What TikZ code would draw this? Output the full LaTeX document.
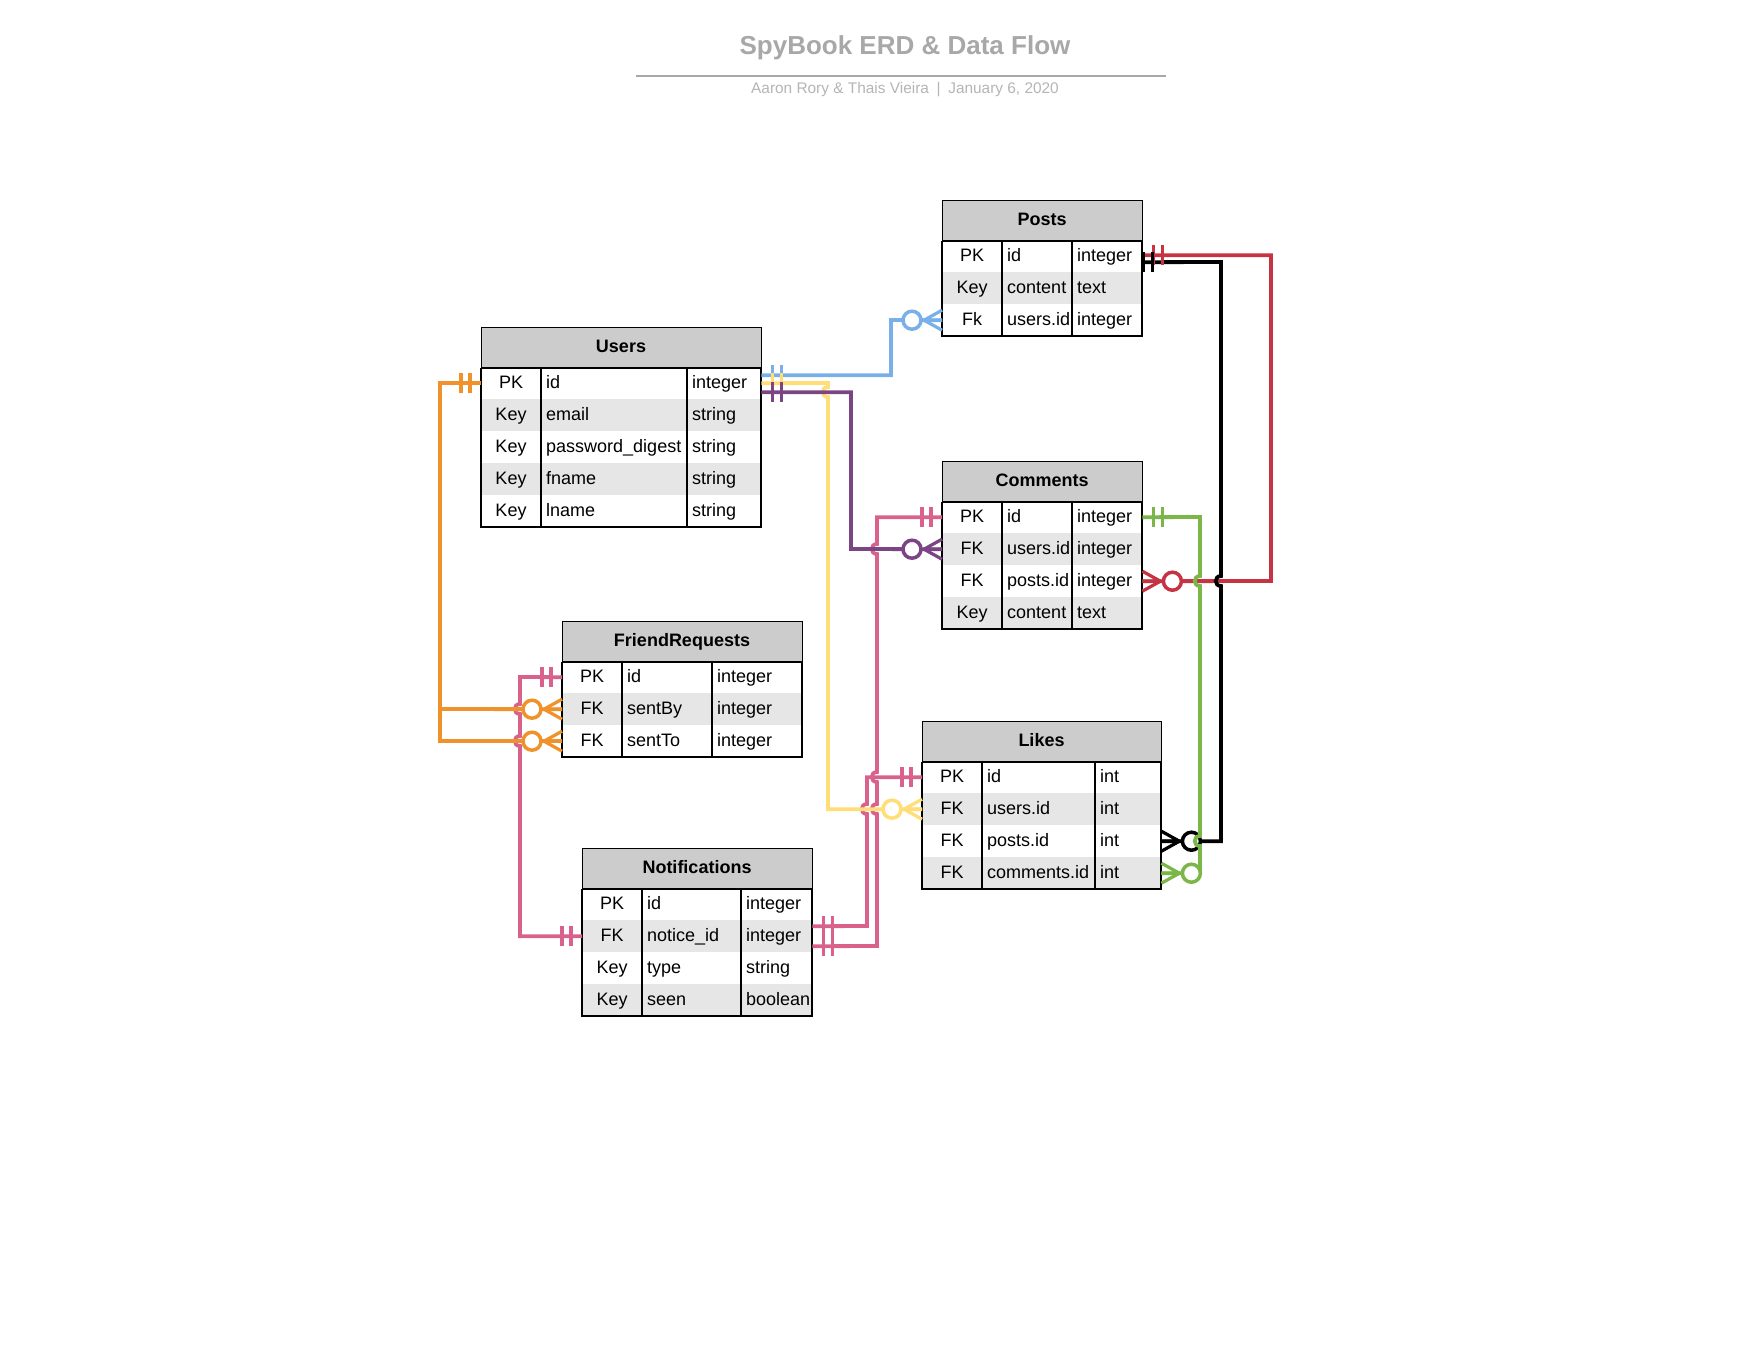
\documentclass[tikz,border=0pt]{standalone}
\usepackage{fontspec}
\setmainfont{Liberation Sans}
\usetikzlibrary{positioning,calc}

\definecolor{headgray}{HTML}{CCCCCC}
\definecolor{rowgray}{HTML}{E6E6E6}
\definecolor{titlegray}{HTML}{A8A8A8}
\definecolor{subgray}{HTML}{B5B5B5}
\definecolor{linkblue}{HTML}{7AB0EA}
\definecolor{linkyellow}{HTML}{FFDD77}
\definecolor{linkpurple}{HTML}{7B4583}
\definecolor{linkpink}{HTML}{D9628C}
\definecolor{linkorange}{HTML}{F0922B}
\definecolor{linkred}{HTML}{C63342}
\definecolor{linkgreen}{HTML}{7AB648}

\tikzset{
  tablehead/.style={draw, line width=1.3pt, fill=headgray, anchor=north west, minimum height=40, inner sep=0pt},
  tablerow/.style={fill=#1, anchor=north west, minimum height=32, inner sep=0pt},
  cell/.style={inner sep=0pt, font=\fontsize{18}{21}\selectfont},
  link/.style={line width=3.8pt, line join=miter},
  pics/mustone/.style={code={\draw[line width=3.5pt] (-11,-10) -- (-11,10) (-20,-10) -- (-20,10);}},
  pics/zeromany/.style={code={
    \draw[line width=3.2pt] (0,-10) -- (-18,0) -- (0,10) (-18,0) -- (0,0);
    \draw[line width=3.5pt, fill=white] (-30,0) circle[radius=9];}},
}

% name, left, top, widths of the three columns, title, rows
\newcommand\erdtable[8]{%
  \foreach \colkey/\colfield/\coltype/\colfill [count=\i] in {#8}{%
    \pgfmathsetmacro\rowy{#3+40+(\i-1)*32}
    \node[tablerow=\colfill, minimum width=#4+#5+#6] (#1-\i) at (#2,\rowy) {};
    \node[cell, anchor=base] at (#2+#4/2, \rowy+21.6) {\colkey};
    \node[cell, anchor=base west] at (#2+#4+5, \rowy+21.6) {\colfield};
    \node[cell, anchor=base west] at (#2+#4+#5+5, \rowy+21.6) {\coltype};
    \xdef\rowcount{\i}
  }
  \node[tablehead, minimum width=#4+#5+#6] (#1) at (#2,#3) {};
  \node[cell, font=\fontsize{18}{21}\selectfont\bfseries, anchor=base] at (#2+#4/2+#5/2+#6/2, #3+25.6) {#7};
  \draw[line width=1.3pt] (#1.south west) rectangle (#2+#4+#5+#6, #3+40+\rowcount*32);
  \draw[line width=1.3pt] (#2+#4, #3+40) -- ++(0,\rowcount*32) (#2+#4+#5, #3+40) -- ++(0,\rowcount*32);
}

% line jumps on vertical runs
\newcommand\hopdown[2]{-- (#1,#2-5) .. controls (#1-7,#2-5) and (#1-7,#2+5) .. (#1,#2+5)}
\newcommand\hopup[2]{-- (#1,#2+5) .. controls (#1-7,#2+5) and (#1-7,#2-5) .. (#1,#2-5)}

\begin{document}
\begin{tikzpicture}[x=1pt,y=-1pt]
  \fill[white,use as bounding box] (0,0) rectangle (1760,1360);

  % title block
  \node[font=\fontsize{26}{31}\selectfont\bfseries, text=titlegray, anchor=base] (title) at (905,54) {SpyBook ERD \& Data Flow};
  \draw[titlegray, line width=1.5pt] (636,76) -- (1166,76);
  \node[font=\fontsize{15.4}{18}\selectfont, text=subgray, anchor=base] (byline) at (905,93.5) {Aaron Rory \& Thais Vieira\hspace{7.7pt}|\hspace{7.7pt}January 6, 2020};

  % tables
  \erdtable{users}{481}{327}{60}{146}{74}{Users}{PK/id/integer/white, Key/email/string/rowgray, Key/password\_digest/string/white, Key/fname/string/rowgray, Key/lname/string/white}
  \erdtable{posts}{942}{200}{60}{70}{70}{Posts}{PK/id/integer/white, Key/content/text/rowgray, Fk/users.id/integer/white}
  \erdtable{comments}{942}{461}{60}{70}{70}{Comments}{PK/id/integer/white, FK/users.id/integer/rowgray, FK/posts.id/integer/white, Key/content/text/rowgray}
  \erdtable{fr}{562}{621}{60}{90}{90}{FriendRequests}{PK/id/integer/white, FK/sentBy/integer/rowgray, FK/sentTo/integer/white}
  \erdtable{likes}{922}{721}{60}{113}{66}{Likes}{PK/id/int/white, FK/users.id/int/rowgray, FK/posts.id/int/white, FK/comments.id/int/rowgray}
  \erdtable{notif}{582}{848}{60}{99}{71}{Notifications}{PK/id/integer/white, FK/notice\_id/integer/rowgray, Key/type/string/white, Key/seen/boolean/rowgray}

  % friend requests <-> notifications
  \draw[link, linkpink] (fr-1.west) -- (520,677) \hopdown{520}{709} \hopdown{520}{741} |- (notif-2.west);
  \pic[linkpink] at (fr-1.west) {mustone};
  \pic[linkpink] at (notif-2.west) {mustone};

  % users -> friend requests
  \coordinate (orangebend) at (440,709);
  \draw[link, linkorange] (users-1.west) -| (orangebend) |- (fr-3.west);
  \draw[link, linkorange] (orangebend) -- (fr-2.west);
  \pic[linkorange] at (users-1.west) {mustone};
  \pic[linkorange] at (fr-2.west) {zeromany};
  \pic[linkorange] at (fr-3.west) {zeromany};

  % notifications -> likes, comments
  \draw[link, linkpink] ([yshift=10pt]notif-2.east) -- (867,926) \hopup{867}{809} |- (likes-1.west);
  \draw[link, linkpink] ([yshift=-10pt]notif-2.east) -- (877,946) \hopup{877}{809} \hopup{877}{777} \hopup{877}{549} |- (comments-1.west);
  \pic[linkpink, xscale=-1] at ([yshift=10pt]notif-2.east) {mustone};
  \pic[linkpink, xscale=-1] at ([yshift=-10pt]notif-2.east) {mustone};
  \pic[linkpink] at (likes-1.west) {mustone};
  \pic[linkpink] at (comments-1.west) {mustone};

  % users -> posts, likes, comments
  \draw[link, linkblue] ([yshift=8pt]users-1.east) -| (891,320) -- (posts-3.west);
  \draw[link, linkyellow] (users-1.east) -- (828,383) \hopdown{828}{392} |- (likes-2.west);
  \draw[link, linkpurple] ([yshift=-9pt]users-1.east) -| (851,549) -- (comments-2.west);
  \pic[linkblue, xscale=-1] at ([yshift=8pt]users-1.east) {mustone};
  \pic[linkyellow, xscale=-1] at (users-1.east) {mustone};
  \pic[linkpurple, xscale=-1] at ([yshift=-9pt]users-1.east) {mustone};
  \pic[linkblue] at (posts-3.west) {zeromany};
  \pic[linkyellow] at (likes-2.west) {zeromany};
  \pic[linkpurple] at (comments-2.west) {zeromany};

  % posts -> comments, likes
  \draw[link, linkred] ([yshift=1pt]posts-1.east) -| (1271,581) -- (comments-3.east);
  \draw[link, black] ([yshift=-6pt]posts-1.east) -- (1221,262) \hopdown{1221}{581} |- (likes-3.east);
  \pic[linkred, xscale=-1] at ([yshift=1pt]posts-1.east) {mustone};
  \pic[black, xscale=-1] at ([xshift=-10pt,yshift=-6pt]posts-1.east) {mustone};
  \pic[linkred, xscale=-1] at (comments-3.east) {zeromany};
  \pic[black, xscale=-1] at (likes-3.east) {zeromany};

  % comments -> likes
  \draw[link, linkgreen] (comments-1.east) -- (1200,517) \hopdown{1200}{581} \hopdown{1200}{841} |- (likes-4.east);
  \pic[linkgreen, xscale=-1] at (comments-1.east) {mustone};
  \pic[linkgreen, xscale=-1] at (likes-4.east) {zeromany};
\end{tikzpicture}
\end{document}
